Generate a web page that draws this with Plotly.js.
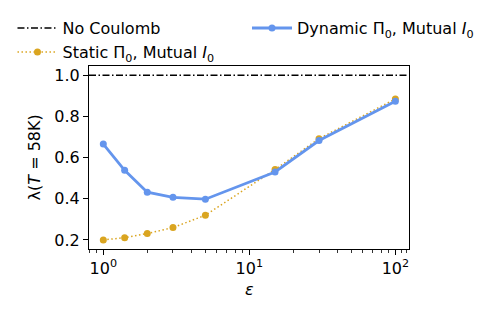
<!DOCTYPE html>
<html>
<head>
<meta charset="utf-8">
<script src="https://cdn.plot.ly/plotly-3.0.1.min.js"></script>
<style>html,body{margin:0;padding:0;background:#fff;}#chart{width:499px;height:312px;}</style>
</head>
<body>
<div id="chart"></div>
<script>
const epsilon = [1, 1.4, 2, 3, 5, 15, 30, 100];
const dynamicLambda = [0.666, 0.538, 0.432, 0.407, 0.398, 0.530, 0.683, 0.874];
const staticLambda = [0.200, 0.211, 0.231, 0.260, 0.320, 0.542, 0.692, 0.885];
const noCoulombLambda = 1.0;
const xRange = [0.798, 124];
const yRange = [0.156, 1.045];
const yTicks = [0.2, 0.4, 0.6, 0.8, 1.0];
const xTicks = [1, 10, 100];
const xTickText = ['10<sup>0</sup>', '10<sup>1</sup>', '10<sup>2</sup>'];
const xTitle = '<i>ε</i>';
const yTitle = 'λ(<i>T</i> = 58K)';

const minorVals = [];
for (let d = 0.1; d <= 100; d *= 10) {
  for (let k = 2; k <= 9; k++) {
    const v = k * d;
    if (v > xRange[0] && v < xRange[1]) minorVals.push(v);
  }
}
minorVals.push(110, 120);

const font = {family: 'DejaVu Sans', size: 16, color: '#000'};

const traces = [
  {x: xRange, y: [noCoulombLambda, noCoulombLambda], mode: 'lines', name: 'No Coulomb',
   line: {color: '#000', width: 1.3, dash: '7px,2.5px,1.5px,2.5px'}, legend: 'legend'},
  {x: epsilon, y: staticLambda, mode: 'lines+markers', name: 'Static Π<sub>0</sub>, Mutual <i>I</i><sub>0</sub>',
   line: {color: '#DAA520', width: 1.5, dash: '1.5px,2.5px'}, marker: {color: '#DAA520', size: 7}, legend: 'legend2'},
  {x: epsilon, y: dynamicLambda, mode: 'lines+markers', name: 'Dynamic Π<sub>0</sub>, Mutual <i>I</i><sub>0</sub>',
   line: {color: '#6495ED', width: 2.8}, marker: {color: '#6495ED', size: 7}, legend: 'legend3'},
  {x: [], y: [], xaxis: 'x2', showlegend: false, hoverinfo: 'skip'}
];

const legendBase = {font: font, bgcolor: 'rgba(0,0,0,0)', borderwidth: 0, xref: 'container', yref: 'container',
  xanchor: 'left', yanchor: 'middle', itemwidth: 40};

const logRange = [Math.log10(xRange[0]), Math.log10(xRange[1])];

const layout = {
  width: 499, height: 312,
  margin: {l: 89, r: 90, t: 66, b: 63, autoexpand: false},
  paper_bgcolor: '#fff', plot_bgcolor: '#fff',
  font: font,
  showlegend: true,
  legend: Object.assign({}, legendBase, {x: 0.025, y: 0.91}),
  legend2: Object.assign({}, legendBase, {x: 0.025, y: 0.833}),
  legend3: Object.assign({}, legendBase, {x: 0.495, y: 0.91}),
  xaxis: {
    type: 'log', range: logRange, automargin: false,
    tickvals: xTicks, ticktext: xTickText, ticks: 'outside', ticklen: 5, tickwidth: 1, tickcolor: '#000',
    showgrid: false, zeroline: false, showline: true, linecolor: '#000', linewidth: 1, mirror: true,
    tickfont: font
  },
  xaxis2: {
    type: 'log', range: logRange, overlaying: 'x', side: 'bottom', anchor: 'y', automargin: false,
    tickvals: minorVals, showticklabels: false, ticks: 'outside', ticklen: 3, tickwidth: 0.8, tickcolor: '#000',
    showgrid: false, zeroline: false, showline: false
  },
  yaxis: {
    range: yRange, tickvals: yTicks, tickformat: '.1f', ticks: 'outside', ticklen: 5, tickwidth: 1, tickcolor: '#000',
    automargin: false,
    showgrid: false, zeroline: false, showline: true, linecolor: '#000', linewidth: 1, mirror: true,
    tickfont: font
  },
  annotations: [
    {text: xTitle, xref: 'paper', yref: 'paper', x: 0.5, y: -0.224, xanchor: 'center', yanchor: 'middle',
     showarrow: false, font: font},
    {text: yTitle, xref: 'paper', yref: 'paper', x: -0.169, y: 0.5, xanchor: 'center', yanchor: 'middle',
     showarrow: false, font: font, textangle: -90}
  ]
};

Plotly.newPlot('chart', traces, layout, {staticPlot: true, displayModeBar: false});
</script>
</body>
</html>
